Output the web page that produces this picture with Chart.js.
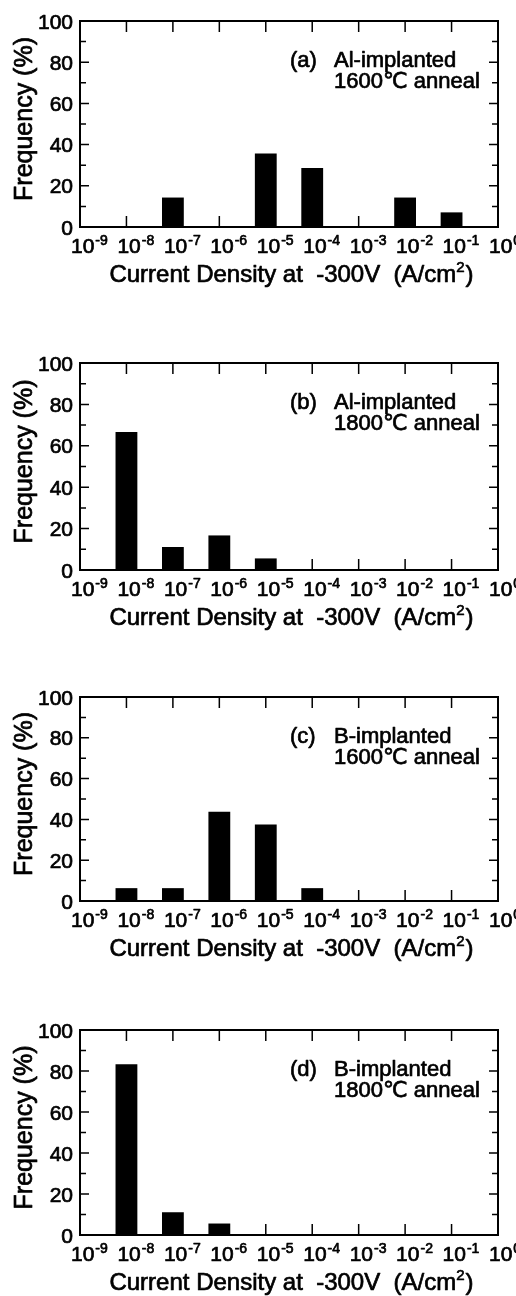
<!DOCTYPE html>
<html>
<head>
<meta charset="utf-8">
<script src="https://cdn.jsdelivr.net/npm/chart.js@4.4.1/dist/chart.umd.min.js"></script>
<style>
  html, body { margin: 0; padding: 0; background: #fff; }
  body { width: 516px; height: 1296px; position: relative; overflow: hidden; }
  canvas { position: absolute; left: 0; }
</style>
</head>
<body>
<script>
// x axis: decade exponents, 10^-9 ... 10^0
const exponents = [-9, -8, -7, -6, -5, -4, -3, -2, -1, 0];
const yTicks = [0, 20, 40, 60, 80, 100];

// (a) Al-implanted, 1600C anneal
const alLowX = [-7, -5, -4, -2, -1];
const alLowFreq = [14.3, 35.7, 28.6, 14.3, 7.1];
// (b) Al-implanted, 1800C anneal
const alHighX = [-8, -7, -6, -5];
const alHighFreq = [66.7, 11.1, 16.7, 5.6];
// (c) B-implanted, 1600C anneal
const bLowX = [-8, -7, -6, -5, -4];
const bLowFreq = [6.3, 6.3, 43.8, 37.5, 6.3];
// (d) B-implanted, 1800C anneal
const bHighX = [-8, -7, -6];
const bHighFreq = [83.3, 11.1, 5.6];

const panelLabels = ['(a)', '(b)', '(c)', '(d)'];
const implants = ['Al-implanted', 'Al-implanted', 'B-implanted', 'B-implanted'];
const anneals = ['1600℃ anneal', '1800℃ anneal', '1600℃ anneal', '1800℃ anneal'];
const xTitle = 'Current Density at  -300V  (A/cm';
const xTitleSup = '2';
const yTitle = 'Frequency (%)';

const FONT = '"Liberation Sans", Arial, "DejaVu Sans", sans-serif';

// layout of the four panels (canvas top, plot height)
const panels = [
  { x: alLowX, y: alLowFreq, top: 0, h: 206 },
  { x: alHighX, y: alHighFreq, top: 342, h: 207 },
  { x: bLowX, y: bLowFreq, top: 676, h: 204 },
  { x: bHighX, y: bHighFreq, top: 1009, h: 205 }
];
const CANVAS_H = 310;

// the scanned original has heavy type, so fill + thin stroke
function txt(ctx, s, x, y) {
  ctx.fillText(s, x, y);
  ctx.strokeText(s, x, y);
}

// frame, inward ticks and all the text
const framePlugin = {
  id: 'frame',
  afterDatasetsDraw(chart, args, opts) {
    const { ctx, chartArea: a, scales: { x, y } } = chart;
    const i = opts.index;
    ctx.save();
    ctx.strokeStyle = '#000';
    ctx.fillStyle = '#000';

    // tick marks
    ctx.lineWidth = 1.5;
    ctx.beginPath();
    exponents.forEach(e => {
      const px = x.getPixelForValue(e);
      ctx.moveTo(px, a.top); ctx.lineTo(px, a.top + 11);
      ctx.moveTo(px, a.bottom); ctx.lineTo(px, a.bottom - 11);
    });
    for (let v = 10; v < 100; v += 10) {
      const py = y.getPixelForValue(v);
      const len = v % 20 === 0 ? 9 : 6;
      ctx.moveTo(a.left, py); ctx.lineTo(a.left + len, py);
      ctx.moveTo(a.right, py); ctx.lineTo(a.right - len, py);
    }
    ctx.stroke();

    ctx.lineWidth = 2;
    ctx.strokeRect(a.left, a.top, a.right - a.left, a.bottom - a.top);

    ctx.lineWidth = 0.7;
    ctx.lineJoin = 'round';

    // y tick labels
    ctx.font = '21px ' + FONT;
    ctx.textAlign = 'right';
    ctx.textBaseline = 'alphabetic';
    yTicks.forEach(v => {
      txt(ctx, String(v), a.left - 7, y.getPixelForValue(v) + 7.5);
    });

    // x tick labels 10^n
    ctx.textAlign = 'left';
    exponents.forEach(e => {
      const px = x.getPixelForValue(e);
      ctx.font = '21px ' + FONT;
      txt(ctx, '10', px - 9, a.bottom + 26);
      const w = ctx.measureText('10').width;
      ctx.font = '14px ' + FONT;
      txt(ctx, String(e), px - 9 + w + 1, a.bottom + 18);
    });

    // x title with superscript
    ctx.font = '24px ' + FONT;
    const w1 = ctx.measureText(xTitle).width;
    const w3 = ctx.measureText(')').width;
    ctx.font = '15px ' + FONT;
    const w2 = ctx.measureText(xTitleSup).width;
    const tx = (a.left + a.right) / 2 + 2 - (w1 + w2 + w3) / 2;
    const ty = a.bottom + 55;
    ctx.font = '24px ' + FONT;
    txt(ctx, xTitle, tx, ty);
    ctx.font = '15px ' + FONT;
    txt(ctx, xTitleSup, tx + w1, ty - 10);
    ctx.font = '24px ' + FONT;
    txt(ctx, ')', tx + w1 + w2 + 1, ty);

    // y title
    ctx.save();
    ctx.translate(32, (a.top + a.bottom) / 2 - 5);
    ctx.rotate(-Math.PI / 2);
    ctx.textAlign = 'center';
    ctx.font = '25px ' + FONT;
    txt(ctx, yTitle, 0, 0);
    ctx.restore();

    // annotation
    ctx.font = '22px ' + FONT;
    ctx.textAlign = 'left';
    txt(ctx, panelLabels[i], a.left + 210, a.top + 46);
    txt(ctx, implants[i], a.left + 254, a.top + 46);
    txt(ctx, anneals[i], a.left + 254, a.top + 67);

    ctx.restore();
  }
};

panels.forEach((p, i) => {
  const canvas = document.createElement('canvas');
  canvas.width = 516;
  canvas.height = CANVAS_H;
  canvas.style.top = p.top + 'px';
  document.body.appendChild(canvas);

  new Chart(canvas, {
    type: 'bar',
    data: {
      datasets: [{
        data: p.x.map((e, k) => ({ x: e, y: p.y[k] })),
        backgroundColor: '#000',
        borderWidth: 0,
        barPercentage: 0.47,
        categoryPercentage: 1
      }]
    },
    options: {
      responsive: false,
      animation: false,
      devicePixelRatio: 1,
      layout: { padding: { top: 21, left: 80, right: 18, bottom: CANVAS_H - 21 - p.h } },
      plugins: {
        legend: { display: false },
        tooltip: { enabled: false },
        frame: { index: i }
      },
      scales: {
        x: { type: 'linear', min: -9, max: 0, offset: false, display: false },
        y: { type: 'linear', min: 0, max: 100, display: false }
      }
    },
    plugins: [framePlugin]
  });
});
</script>
</body>
</html>
